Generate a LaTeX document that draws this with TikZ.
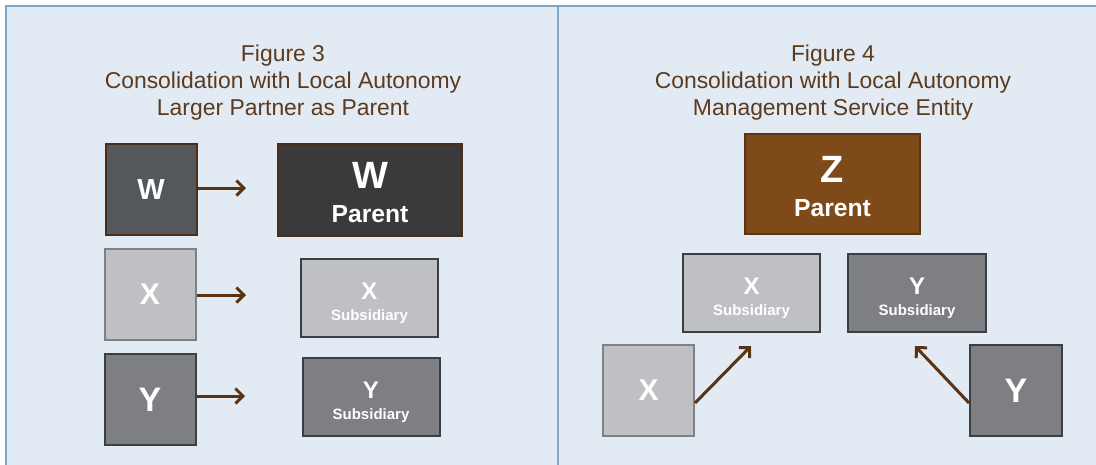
\documentclass[tikz,border=0pt]{standalone}
\usepackage{fontspec}
\setmainfont{Liberation Sans}
\usetikzlibrary{arrows.meta}
\definecolor{panelfill}{HTML}{E2EBF4}
\definecolor{panelline}{HTML}{7BA7CD}
\definecolor{titlebrown}{HTML}{5C3A1E}
\definecolor{arrowbrown}{HTML}{5A3214}
\definecolor{wfill}{HTML}{54575B}
\definecolor{wpfill}{HTML}{3A393C}
\definecolor{wline}{HTML}{4A2E17}
\definecolor{xfill}{HTML}{BEC0C3}
\definecolor{xline}{HTML}{7E8186}
\definecolor{darkline}{HTML}{3B3E42}
\definecolor{yfill}{HTML}{7D7F82}
\definecolor{zfill}{HTML}{7F4A1A}
\definecolor{zline}{HTML}{5A3416}
\begin{document}
\begin{tikzpicture}[x=1pt,y=-1pt,
  panel/.style={draw=panelline, line width=2pt, fill=panelfill},
  titletext/.style={text=titlebrown, font=\fontsize{22.9}{27.3}\selectfont, align=center, anchor=north, inner sep=0pt},
  box/.style={line width=2pt, inner sep=0pt, text=white, align=center},
  sq/.style={box, minimum width=91pt, minimum height=91pt},
  wsmall/.style={sq, fill=wfill, draw=wline, font=\bfseries\fontsize{29}{29}\selectfont},
  xsmall/.style={sq, fill=xfill, draw=xline, font=\bfseries\fontsize{30}{30}\selectfont},
  ysmall/.style={sq, fill=yfill, draw=darkline, font=\bfseries\fontsize{34}{34}\selectfont},
  parentbox/.style={box, font=\bfseries\fontsize{24.7}{34}\selectfont},
  subbox/.style={box, draw=darkline, minimum width=137pt, minimum height=78pt, font=\bfseries\fontsize{15}{21}\selectfont},
  arr/.style={draw=arrowbrown, line width=3pt, -{Straight Barb[length=7.5pt,width=15pt]}}
]
\useasboundingbox (0,0) rectangle (1096,464);
\fill[white] (0,0) rectangle (1096,464);
\clip (0,0) rectangle (1096,464);
\draw[panel] (6,6) rectangle (558,474);
\draw[panel] (558,6) rectangle (1106,474);

% titles
\node[titletext] (t3) at (283,44.5) {Figure 3\\Consolidation with Local Autonomy\\Larger Partner as Parent};
\node[titletext] (t4) at (833,44.5) {Figure 4\\Consolidation with Local Autonomy\\Management Service Entity};

% left figure
\node[wsmall] (w1) at (151,189.5) {W};
\node[parentbox, fill=wpfill, draw=wline, minimum width=184pt, minimum height=92pt] (wp) at (370,190)
  {\rule{0pt}{32pt}{\fontsize{38}{34}\selectfont W}\\Parent};
\node[xsmall] (x1) at (150,294) {X};
\node[subbox, fill=xfill] (xs) at (369.5,298)
  {\rule{0pt}{27pt}{\fontsize{24}{21}\selectfont X}\\Subsidiary};
\node[ysmall] (y1) at (150,399.5) {Y};
\node[subbox, fill=yfill] (ys) at (371,397)
  {\rule{0pt}{27pt}{\fontsize{24}{21}\selectfont Y}\\Subsidiary};

\coordinate (wt) at (246,188);
\coordinate (xt) at (246,295);
\coordinate (yt) at (245,396);
\draw[arr] (w1.east |- wt) -- (wt);
\draw[arr] (x1.east |- xt) -- (xt);
\draw[arr] (y1.east |- yt) -- (yt);

% right figure
\node[parentbox, fill=zfill, draw=zline, minimum width=175pt, minimum height=100pt] (z) at (832.5,184)
  {\rule{0pt}{32pt}{\fontsize{38}{34}\selectfont Z}\\Parent};
\node[subbox, fill=xfill] (xs2) at (751.5,293)
  {\rule{0pt}{27pt}{\fontsize{24}{21}\selectfont X}\\Subsidiary};
\node[subbox, fill=yfill, minimum width=138pt] (ys2) at (917,293)
  {\rule{0pt}{27pt}{\fontsize{24}{21}\selectfont Y}\\Subsidiary};
\node[xsmall, minimum width=91pt] (x2) at (648.5,390.5) {X};
\node[ysmall, minimum width=92pt] (y2) at (1016,390.5) {Y};

\coordinate (xt2) at (751,346);
\coordinate (yt2) at (915,346);
\draw[arr] ([yshift=-12.5pt]x2.east) -- (xt2);
\draw[arr] ([yshift=-12.5pt]y2.west) -- (yt2);
\end{tikzpicture}
\end{document}
